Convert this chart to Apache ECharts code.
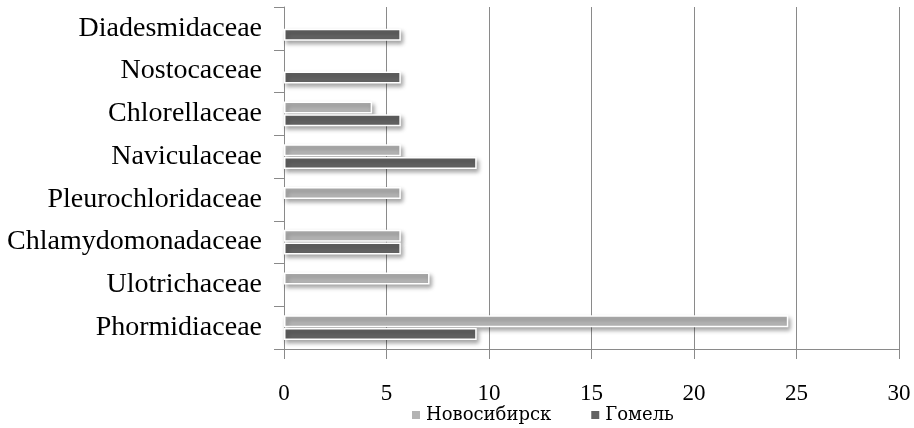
<!DOCTYPE html>
<html>
<head>
<meta charset="utf-8">
<script src="https://cdn.jsdelivr.net/npm/echarts@6/dist/echarts.min.js"></script>
<style>html,body{margin:0;padding:0;background:#fff}#c{width:914px;height:428px}</style>
</head>
<body>
<div id="c"></div>
<script>
const categories = ['Phormidiaceae','Ulotrichaceae','Chlamydomonadaceae','Pleurochloridaceae','Naviculaceae','Chlorellaceae','Nostocaceae','Diadesmidaceae'];
const novosibirsk = [24.6, 7.1, 5.7, 5.7, 5.7, 4.3, 0, 0];
const gomel = [9.4, 0, 5.7, 0, 9.4, 5.7, 5.7, 5.7];
const xTicks = [0, 5, 10, 15, 20, 25, 30];
const seriesNames = ['Новосибирск', 'Гомель'];

const toData = arr => arr.map(v => v === 0 ? '-' : v);
const barStyle = color => ({
  color: color,
  borderColor: '#ffffff',
  borderWidth: 1.5,
  shadowColor: 'rgba(0,0,0,0.35)',
  shadowBlur: 4,
  shadowOffsetX: 2,
  shadowOffsetY: 3
});
const font = 'Liberation Serif';
const cyrFont = 'DejaVu Serif';
const chart = echarts.init(document.getElementById('c'), null, {renderer: 'canvas'});
chart.setOption({
  animation: false,
  backgroundColor: '#fff',
  textStyle: {fontFamily: font},
  grid: {left: 284, right: 15, top: 7, bottom: 79, containLabel: false},
  legend: {
    data: seriesNames,
    left: 405, top: 401,
    itemWidth: 10, itemHeight: 10, itemGap: 38,
    icon: 'rect',
    textStyle: {fontFamily: cyrFont, fontSize: 18, color: '#000'}
  },
  xAxis: {
    type: 'value', min: xTicks[0], max: xTicks[xTicks.length - 1], interval: 5,
    axisLine: {show: true, lineStyle: {color: '#8a8a8a', width: 1}},
    axisTick: {show: true, length: 10, lineStyle: {color: '#8a8a8a'}},
    splitLine: {show: true, lineStyle: {color: '#8a8a8a', width: 1}},
    axisLabel: {fontFamily: font, fontSize: 23, color: '#000', margin: 33}
  },
  yAxis: {
    type: 'category', data: categories,
    axisLine: {show: true, lineStyle: {color: '#8a8a8a', width: 1}},
    axisTick: {show: true, length: 10, lineStyle: {color: '#8a8a8a'}},
    axisLabel: {fontFamily: font, fontSize: 28, color: '#000', margin: 22}
  },
  series: [
    {name: seriesNames[0], type: 'bar', data: toData(novosibirsk), barWidth: 12, barGap: '5%', itemStyle: barStyle('#b3b3b3')},
    {name: seriesNames[1], type: 'bar', data: toData(gomel), barWidth: 12, barGap: '5%', itemStyle: barStyle('#626262')}
  ]
});
</script>
</body>
</html>
